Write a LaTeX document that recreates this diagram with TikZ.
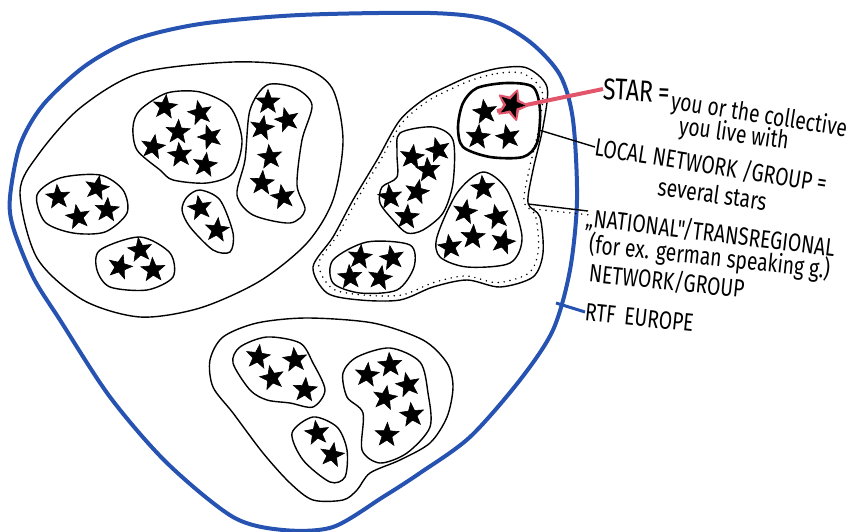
\documentclass[tikz,border=0pt]{standalone}
\usepackage{fontspec}
\setmainfont{Fira Sans}
\newfontfamily\hand[FakeStretch=0.77]{Fira Sans}
\usetikzlibrary{shapes.geometric}
\definecolor{rtfblue}{RGB}{38,82,178}
\definecolor{redpink}{RGB}{226,86,108}
\begin{document}
\begin{tikzpicture}[x=1pt,y=-1pt,
  grp/.style={draw=black, line width=1.4pt},
  localgrp/.style={draw=black, line width=2.6pt},
  dotline/.style={draw=black, line width=1.7pt, line cap=round, dash pattern=on 0pt off 6pt},
  bluegrp/.style={draw=rtfblue, line width=4pt},
  starnode/.style={star, star points=5, star point ratio=2.4, fill=black, draw=black, line width=0.6pt, minimum size=25pt, inner sep=0pt},
  redhalo/.style={star, star points=5, star point ratio=2.0, fill=redpink, draw=redpink, line join=round, line width=2pt, minimum size=31pt, inner sep=0pt},
  conn/.style={draw=black, line width=1.4pt},
  redconn/.style={draw=redpink, line width=4pt},
  blueconn/.style={draw=rtfblue, line width=3pt},
  lbl/.style={font=\hand\fontsize{25}{27}\selectfont, anchor=west, inner sep=0pt},
]
\useasboundingbox (0,0) rectangle (857,532);

% RTF Europe (blue)
\draw[bluegrp] plot[smooth cycle] coordinates {(10,197) (20,145) (43,105) (85,66) (133,40) (200,24) (300,15) (430,13) (490,20) (530,42) (560,75) (573,120) (577,200) (570,270) (553,330) (520,380) (470,437) (420,473) (383,497) (333,527) (283,530) (233,517) (167,463) (110,397) (60,320) (33,277) (13,227)};

% national group 1 (left)
\draw[grp] plot[smooth cycle] coordinates {(20,192) (37,258) (83,300) (140,317) (200,308) (260,281) (307,243) (333,200) (343,140) (332,88) (300,67) (233,62) (140,73) (80,108) (38,155)};
\draw[grp] plot[smooth cycle] coordinates {(37,195) (60,178) (100,175) (123,190) (127,213) (105,232) (73,233) (45,222)};
\draw[grp] plot[smooth cycle] coordinates {(100,250) (140,237) (170,253) (173,277) (147,290) (110,287) (97,270)};
\draw[grp] plot[smooth cycle] coordinates {(140,110) (167,93) (200,92) (230,107) (242,140) (233,173) (207,183) (173,180) (160,170) (137,150) (133,127)};
\draw[grp] plot[smooth cycle] coordinates {(187,197) (200,190) (220,200) (233,233) (230,252) (213,250) (190,227) (182,210)};
\draw[grp] plot[smooth cycle] coordinates {(267,85) (295,88) (312,105) (302,140) (297,185) (305,210) (290,223) (253,215) (237,195) (245,160) (250,110)};

% national group 2 (right, dotted)
\draw[grp] plot[smooth cycle] coordinates {(473,75) (500,68) (527,68) (547,87) (543,127) (533,170) (528,203) (540,217) (543,253) (533,277) (500,287) (467,280) (433,287) (400,300) (360,300) (327,293) (313,267) (333,237) (353,200) (377,160) (400,120) (427,97) (450,85)};
\begin{scope}[shift={(440,190)}, scale=0.955, shift={(-440,-190)}]
\draw[dotline] plot[smooth cycle] coordinates {(473,75) (500,68) (527,68) (547,87) (543,127) (533,170) (528,203) (540,217) (543,253) (533,277) (500,287) (467,280) (433,287) (400,300) (360,300) (327,293) (313,267) (333,237) (353,200) (377,160) (400,120) (427,97) (450,85)};
\end{scope}
\draw[localgrp] plot[smooth cycle] coordinates {(463,103) (477,88) (507,83) (533,87) (540,110) (537,143) (523,157) (490,157) (463,147) (458,127)};
\draw[grp] plot[smooth cycle] coordinates {(400,133) (433,127) (453,140) (453,183) (443,213) (423,230) (407,233) (393,220) (380,203) (382,187) (397,177) (397,153)};
\draw[grp] plot[smooth cycle] coordinates {(483,172) (507,190) (522,237) (510,263) (467,267) (440,257) (437,237) (457,193)};
\draw[grp] plot[smooth cycle] coordinates {(367,242) (410,245) (414,267) (397,290) (360,293) (333,283) (333,260)};

% national group 3 (bottom)
\draw[grp] plot[smooth cycle] coordinates {(210,360) (223,337) (257,323) (307,318) (373,323) (423,340) (447,363) (453,387) (447,417) (430,443) (400,460) (370,473) (357,490) (343,500) (313,500) (290,483) (263,453) (233,413) (213,387)};
\draw[grp] plot[smooth cycle] coordinates {(240,347) (267,337) (300,343) (313,363) (325,390) (313,407) (290,403) (267,400) (250,390) (233,363)};
\draw[grp] plot[smooth cycle] coordinates {(313,417) (337,427) (347,450) (345,477) (330,482) (303,460) (292,433)};
\draw[grp] plot[smooth cycle] coordinates {(357,357) (390,348) (420,362) (428,393) (430,427) (407,453) (380,463) (362,450) (363,413) (347,397) (343,373)};

% red connector and highlighted star
\node[redhalo, shape border rotate=-20] (halo) at (512,105) {};
\coordinate (redStart) at (497,111);
\node[lbl, font=\hand\fontsize{30}{32}\selectfont, rotate=-3] (tStar) at (603,89) {STAR\,=};
\draw[redconn] (redStart) -- (tStar.west);

% stars
\foreach \x/\y/\r [count=\i] in {58/197/5, 97/188/-12, 78/217/10, 107/210/-4,
  140/250/8, 120/267/-15, 153/270/3,
  165/107/-6, 200/113/12, 178/132/-3, 210/137/18, 153/147/-10, 180/155/6, 205/165/-8,
  200/208/10, 217/230/-6,
  268/102/0, 287/120/14, 262/128/-10, 270/157/6, 262/183/-4, 283/197/10}
  \node[starnode, shape border rotate=\r] (sA\i) at (\x,\y) {};
\foreach \x/\y/\r [count=\i] in {512/105/-20, 485/112/8, 478/137/-5, 508/137/12,
  412/157/-8, 438/150/14, 428/170/4, 417/192/-12, 390/197/6, 407/217/-4,
  483/188/5, 465/212/-10, 497/217/12, 473/237/-3, 450/247/8, 503/242/-14,
  360/257/-6, 392/258/10, 350/277/4, 380/278/-10}
  \node[starnode, shape border rotate=\r] (sB\i) at (\x,\y) {};
\foreach \x/\y/\r [count=\i] in {258/357/-8, 295/360/6, 272/378/12, 305/390/-4,
  317/433/8, 332/455/-10,
  367/375/-6, 390/365/4, 408/385/12, 385/398/-10, 412/415/6, 387/435/-2}
  \node[starnode, shape border rotate=\r] (sC\i) at (\x,\y) {};

% labels
\node[lbl, rotate=-9] (tYou1) at (671,102) {you or the collective};
\node[lbl, rotate=-8] (tYou2) at (679,127) {you live with};
\node[lbl, rotate=-9] (tLocal) at (595,147) {LOCAL NETWORK /GROUP =};
\node[lbl, rotate=-8] (tSev) at (658,186) {several stars};
\node[lbl, rotate=-7] (tNat) at (586,218) {„NATIONAL"/TRANSREGIONAL};
\node[lbl, rotate=-6] (tFor) at (589,245) {(for ex. german speaking g.)};
\node[lbl, rotate=-6] (tNet) at (589,273) {NETWORK/GROUP};
\node[lbl, rotate=-6] (tRTF) at (585,312) {RTF\hspace{9pt}EUROPE};

% connectors
\coordinate (localE) at (539,130);
\draw[conn] (localE) -- (tLocal.west);
\coordinate (natE) at (528,204);
\coordinate (natEnd) at (588,211);
\draw[conn] (natE) -- (natEnd);
\coordinate (natDotA) at (534,209);
\coordinate (natDotB) at (590,215);
\draw[dotline] (natDotA) -- (natDotB);
\coordinate (blueE) at (556,303);
\draw[blueconn] (blueE) -- (tRTF.west);
\end{tikzpicture}
\end{document}
